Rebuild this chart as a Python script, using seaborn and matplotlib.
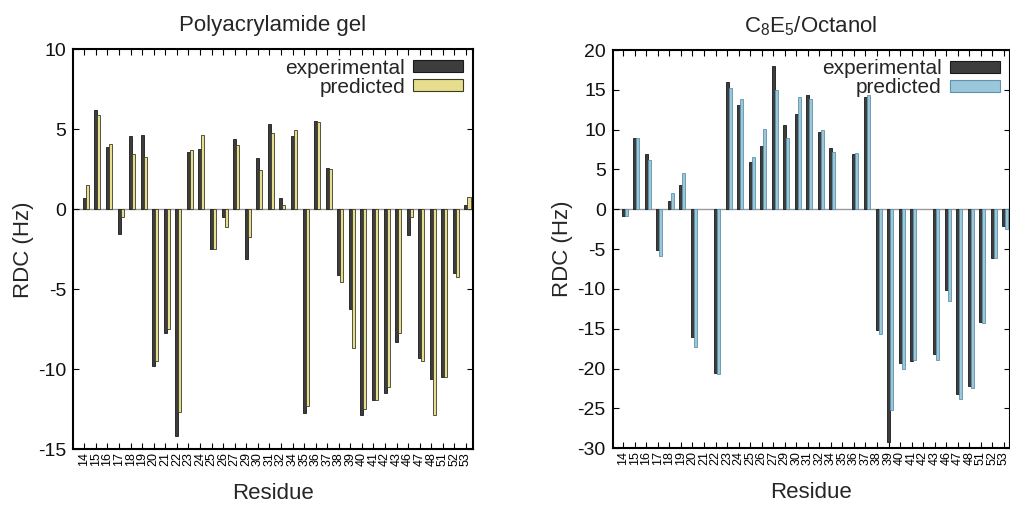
import numpy as np
import pandas as pd
import matplotlib
matplotlib.use("Agg")
import matplotlib.pyplot as plt
import seaborn as sns

nan = np.nan
residues = ['14', '15', '16', '17', '18', '19', '20', '21', '22', '23', '24', '25', '26', '27',
            '29', '30', '31', '32', '34', '35', '36', '37', '38', '39', '40', '41', '42', '43',
            '46', '47', '48', '51', '52', '53']

gel_exp = [0.7, 6.2, 3.9, -1.55, 4.6, 4.65, -9.8, -7.7, -14.15, 3.6, 3.8, -2.5, -0.5, 4.4,
           -3.1, 3.2, 5.35, 0.7, 4.6, -12.75, 5.5, 2.6, -4.1, -6.2, -12.85, -11.9, -11.5, -8.3,
           -1.6, -9.3, -10.6, -10.5, -4.0, 0.3]
gel_pred = [1.55, 5.9, 4.1, -0.45, 3.45, 3.3, -9.5, -7.45, -12.65, 3.7, 4.65, -2.5, -1.1, 4.0,
            -1.75, 2.45, 4.8, 0.25, 4.95, -12.3, 5.45, 2.55, -4.55, -8.65, -12.5, -11.9, -11.1, -7.7,
            -0.5, -9.45, -12.85, -10.5, -4.25, 0.8]

oct_exp = [-0.8, 9.0, 7.0, -5.1, 1.0, 3.0, -16.05, nan, -20.5, 16.0, 13.1, 5.95, 8.0, 18.0,
           10.6, 12.0, 14.4, 9.75, 7.75, nan, 7.0, 14.05, -15.1, -29.2, -19.3, -19.1, nan, -18.2,
           -10.1, -23.2, -22.2, -14.2, -6.1, -2.1]
oct_pred = [-0.9, 8.9, 6.2, -5.9, 2.05, 4.5, -17.3, nan, -20.7, 15.25, 13.85, 6.6, 10.1, 15.0,
            9.0, 14.1, 13.9, 9.95, 7.25, nan, 7.1, 14.35, -15.6, -25.2, -20.0, -18.9, nan, -18.9,
            -11.5, -23.8, -22.4, -14.3, -6.1, -2.5]

series_names = ['experimental', 'predicted']
titles = ['Polyacrylamide gel', r'C$_{\mathregular{8}}$E$_{\mathregular{5}}$/Octanol']
yticks_list = [[-15, -10, -5, 0, 5, 10], [-30, -25, -20, -15, -10, -5, 0, 5, 10, 15, 20]]

sns.set_style('ticks')
plt.rcParams['font.family'] = ['Liberation Sans', 'DejaVu Sans']
plt.rcParams['mathtext.fontset'] = 'custom'
plt.rcParams['mathtext.rm'] = 'Liberation Sans'

fig = plt.figure(figsize=(10.1, 5.08), dpi=100)
ax1 = fig.add_axes([73 / 1010, 1 - 449.3 / 508, (472.7 - 73) / 1010, 400 / 508])
ax2 = fig.add_axes([612.7 / 1010, 1 - 448.3 / 508, (1009.5 - 612.7) / 1010, 398.3 / 508])

panels = [
    (ax1, gel_exp, gel_pred, '#f5e97e', '#3a3a2a', (-1.11, 33.45)),
    (ax2, oct_exp, oct_pred, '#90cbe6', '#5f93ab', (-1.05, 33.36)),
]

for i, (ax, exp, pred, col, edge, xl) in enumerate(panels):
    df = pd.DataFrame({
        'Residue': residues * 2,
        'RDC': list(exp) + list(pred),
        'type': [series_names[0]] * len(residues) + [series_names[1]] * len(residues),
    })
    ax.axhline(0, color='#9a9a9a', lw=1.0, zorder=0.5)
    sns.barplot(data=df, x='Residue', y='RDC', hue='type', order=residues,
                hue_order=series_names, palette=['#3d3d3d', col], width=0.52,
                errorbar=None, ax=ax, zorder=2)
    for p in ax.containers[0]:
        p.set_edgecolor('#1a1a1a')
        p.set_linewidth(0.6)
    for p in ax.containers[1]:
        p.set_edgecolor(edge)
        p.set_linewidth(0.6)
    ax.set_xticks(np.arange(len(residues)) - 0.13)
    ax.set_xticklabels(residues, rotation=90, fontsize=9)
    ax.set_xlim(*xl)
    yt = yticks_list[i]
    ax.set_ylim(yt[0], yt[-1])
    ax.set_yticks(yt)
    ax.set_yticklabels([str(v) for v in yt], fontsize=14)
    ax.tick_params(axis='both', direction='in', top=True, right=True, length=4,
                   width=0.8, colors='black', pad=3)
    ax.tick_params(axis='x', pad=2, length=4)
    ax.tick_params(axis='y', labelcolor='#111111', pad=5)
    for s in ax.spines.values():
        s.set_visible(True)
        s.set_linewidth(1.5)
        s.set_color('black')
    ax.set_xlabel('Residue', fontsize=16, labelpad=12)
    ax.set_ylabel('RDC (Hz)', fontsize=16, labelpad=3)
    ax.set_title(titles[i], fontsize=16, pad=13)
    h, l = ax.get_legend_handles_labels()
    leg = ax.legend(h, l, loc='upper right', markerfirst=False, frameon=False, fontsize=15,
                    handlelength=2.4, handleheight=0.5, labelspacing=0.0, handletextpad=0.4,
                    borderaxespad=0.15, borderpad=0.3)
    hs = leg.legend_handles
    hs[0].set_edgecolor('#1a1a1a')
    hs[0].set_linewidth(0.8)
    hs[1].set_edgecolor(edge)
    hs[1].set_linewidth(0.8)

fig.savefig('out.png', dpi=100)
